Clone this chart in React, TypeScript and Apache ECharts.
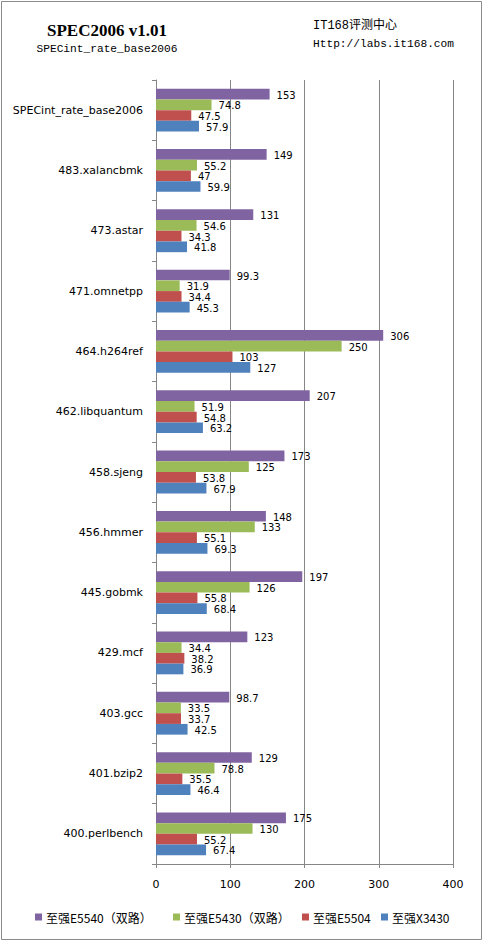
import React, { useEffect, useRef } from "react";
import * as echarts from "echarts";

const categories = [
  "SPECint_rate_base2006",
  "483.xalancbmk",
  "473.astar",
  "471.omnetpp",
  "464.h264ref",
  "462.libquantum",
  "458.sjeng",
  "456.hmmer",
  "445.gobmk",
  "429.mcf",
  "403.gcc",
  "401.bzip2",
  "400.perlbench",
];

const seriesNames = ["至强E5540（双路）", "至强E5430（双路）", "至强E5504", "至强X3430"];
const seriesColors = ["#8064A2", "#9BBB59", "#C0504D", "#4F81BD"];

const e5540 = [153, 149, 131, 99.3, 306, 207, 173, 148, 197, 123, 98.7, 129, 175];
const e5430 = [74.8, 55.2, 54.6, 31.9, 250, 51.9, 125, 133, 126, 34.4, 33.5, 78.8, 130];
const e5504 = [47.5, 47, 34.3, 34.4, 103, 54.8, 53.8, 55.1, 55.8, 38.2, 33.7, 35.5, 55.2];
const x3430 = [57.9, 59.9, 41.8, 45.3, 127, 63.2, 67.9, 69.3, 68.4, 36.9, 42.5, 46.4, 67.4];

const seriesData = [e5540, e5430, e5504, x3430];

const titleText = "SPEC2006 v1.01";
const subtitleText = "SPECint_rate_base2006";
const sourceText1 = "IT168评测中心";
const sourceText2 = "Http://labs.it168.com";

const axisMin = 0;
const axisMax = 400;
const axisInterval = 100;

const W = 483;
const H = 941;

const legendLefts = [33, 171, 300, 379];

export default function App() {
  const ref = useRef<HTMLDivElement>(null);

  useEffect(() => {
    if (!ref.current) return;
    const chart = echarts.init(ref.current, undefined, { renderer: "svg" });
    const gray = "#868686";
    const font = "'DejaVu Sans', Verdana, sans-serif";
    chart.setOption({
      animation: false,
      backgroundColor: "#ffffff",
      grid: { left: 156, right: 30, top: 80, bottom: 77, containLabel: false },
      legend: seriesNames.map((name, i) => ({
        data: [name],
        top: 909,
        left: legendLefts[i],
        padding: 2,
        itemWidth: 7,
        itemHeight: 7,
        itemGap: 0,
        icon: "rect",
        textStyle: {
          fontSize: 12,
          color: "#000",
          padding: [0, 0, 0, -1],
          fontFamily: "'Noto Sans CJK SC', sans-serif",
        },
      })),
      xAxis: {
        type: "value",
        min: axisMin,
        max: axisMax,
        interval: axisInterval,
        axisLine: { show: true, lineStyle: { color: gray } },
        axisTick: { show: true, length: 4, lineStyle: { color: gray } },
        splitLine: { show: true, lineStyle: { color: gray, width: 1 } },
        axisLabel: { fontSize: 11, color: "#000", margin: 15, fontFamily: font },
      },
      yAxis: {
        type: "category",
        inverse: true,
        data: categories,
        axisLine: { show: true, lineStyle: { color: gray } },
        axisTick: { show: true, length: 4, lineStyle: { color: gray } },
        axisLabel: { fontSize: 11, color: "#000", margin: 13, fontFamily: font },
      },
      series: seriesNames.map((name, i) => ({
        name,
        type: "bar",
        data: seriesData[i],
        barGap: "0%",
        barCategoryGap: "29%",
        itemStyle: { color: seriesColors[i] },
        label: {
          show: true,
          position: "right",
          distance: 7,
          offset: [0, 1],
          fontSize: 10,
          lineHeight: 9,
          color: "#000",
          fontFamily: font,
        },
      })),
      graphic: [
        {
          type: "rect",
          shape: { x: 1.5, y: 1.5, width: 480, height: 938 },
          style: { fill: "none", stroke: "#8a8a8a", lineWidth: 1 },
          silent: true,
        },
        {
          type: "text",
          x: 107,
          y: 30,
          style: {
            text: titleText,
            font: "bold 17px 'Liberation Serif', 'DejaVu Serif', serif",
            fill: "#000",
            align: "center",
            verticalAlign: "middle",
          },
        },
        {
          type: "text",
          x: 107,
          y: 49,
          style: {
            text: subtitleText,
            font: "11.2px 'Liberation Mono', 'DejaVu Sans Mono', monospace",
            fill: "#000",
            align: "center",
            verticalAlign: "middle",
          },
        },
        {
          type: "text",
          x: 313,
          y: 26,
          style: {
            text: sourceText1,
            font: "12px 'Liberation Mono', 'Noto Sans CJK SC', monospace",
            fill: "#000",
            align: "left",
            verticalAlign: "middle",
          },
        },
        {
          type: "text",
          x: 313,
          y: 44,
          style: {
            text: sourceText2,
            font: "11.2px 'Liberation Mono', 'DejaVu Sans Mono', monospace",
            fill: "#000",
            align: "left",
            verticalAlign: "middle",
          },
        },
      ],
    });
    return () => chart.dispose();
  }, []);

  return (
    <div
      ref={ref}
      style={{ position: "absolute", left: 0, top: 0, width: W, height: H }}
    />
  );
}
